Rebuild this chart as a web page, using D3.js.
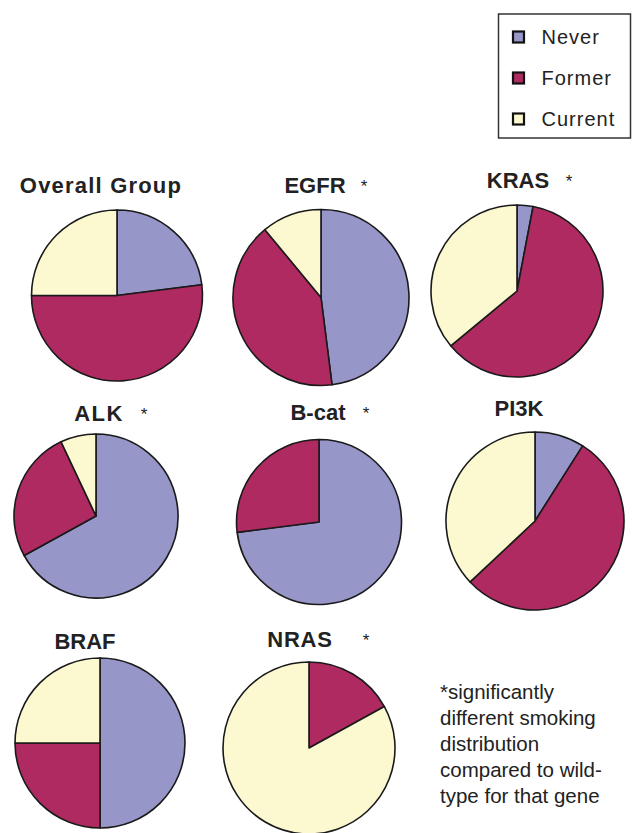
<!DOCTYPE html>
<html>
<head>
<meta charset="utf-8">
<script src="https://cdn.jsdelivr.net/npm/d3@7"></script>
<style>
  html, body { margin: 0; padding: 0; background: #fff; }
  svg { display: block; font-family: "Liberation Sans", Arial, sans-serif; }
</style>
</head>
<body>
<svg id="chart" width="633" height="833"></svg>
<script>
// Smoking history distribution by mutation group
const groups      = ["Overall Group", "EGFR", "KRAS", "ALK", "B-cat", "PI3K", "BRAF", "NRAS"];
const significant = [false, true, true, true, true, false, false, true];
const categories  = ["Never", "Former", "Current"];
const neverPct    = [23, 48, 3, 67, 73, 9, 50, 0];
const formerPct   = [52, 41, 61, 26, 27, 54, 25, 17];
const currentPct  = [25, 11, 36, 7, 0, 37, 25, 83];
const footnote    = ["*significantly", "different smoking", "distribution", "compared to wild-", "type for that gene"];

// Panel placement: pie centre and radius, title centre/baseline, star x
const panels = [
  { cx: 117, cy: 295.5, r: 85.5, tx: 101, ty: 193, sx: 0,   ls: 1.2 },
  { cx: 321, cy: 297.5, r: 88,   tx: 315, ty: 193, sx: 364, ls: 0 },
  { cx: 517, cy: 291,   r: 86,   tx: 518, ty: 188, sx: 569, ls: 0 },
  { cx: 96,  cy: 516,   r: 82,   tx: 99,  ty: 421, sx: 144, ls: 1.5 },
  { cx: 319, cy: 522,   r: 82.5, tx: 318, ty: 420, sx: 366, ls: 0 },
  { cx: 535, cy: 521,   r: 89,   tx: 519, ty: 416, sx: 0,   ls: 0 },
  { cx: 100, cy: 743,   r: 85,   tx: 85,  ty: 649, sx: 0,   ls: 0 },
  { cx: 309, cy: 748,   r: 86,   tx: 300, ty: 647, sx: 366, ls: 0.8 }
];

const color = d3.scaleOrdinal()
  .domain(categories)
  .range(["#9696c8", "#b02a62", "#fcf9d0"]);

const svg = d3.select("#chart");

const pie = d3.pie()
  .sort(null)
  .value(d => d.value)
  .startAngle(0)
  .endAngle(2 * Math.PI);

groups.forEach((name, i) => {
  const p = panels[i];
  const rows = [
    { key: "Never",   value: neverPct[i] },
    { key: "Former",  value: formerPct[i] },
    { key: "Current", value: currentPct[i] }
  ];
  const arc = d3.arc().innerRadius(0).outerRadius(p.r);
  const g = svg.append("g").attr("transform", `translate(${p.cx},${p.cy})`);

  g.selectAll("path")
    .data(pie(rows).filter(d => d.data.value > 0))
    .join("path")
    .attr("d", arc)
    .attr("fill", d => color(d.data.key))
    .attr("stroke", "#1a1a1a")
    .attr("stroke-width", 1.6)
    .attr("stroke-linejoin", "round");

  svg.append("text")
    .attr("x", p.tx)
    .attr("y", p.ty)
    .attr("text-anchor", "middle")
    .attr("font-weight", "bold")
    .attr("font-size", 22)
    .attr("letter-spacing", p.ls)
    .attr("fill", "#222")
    .text(name);

  if (significant[i]) {
    svg.append("text")
      .attr("x", p.sx)
      .attr("y", p.ty - 1)
      .attr("text-anchor", "middle")
      .attr("font-size", 17)
      .attr("fill", "#222")
      .text("*");
  }
});

// Legend
const legend = svg.append("g").attr("transform", "translate(498.5,14)");
legend.append("rect")
  .attr("x", 0).attr("y", 0)
  .attr("width", 132).attr("height", 124)
  .attr("fill", "#fff")
  .attr("stroke", "#333")
  .attr("stroke-width", 1.5);
const legendY = d3.scalePoint().domain(categories).range([23, 105]);
categories.forEach(c => {
  const y = legendY(c);
  legend.append("rect")
    .attr("x", 14.5).attr("y", y - 5.5)
    .attr("width", 11).attr("height", 11)
    .attr("fill", color(c))
    .attr("stroke", "#111")
    .attr("stroke-width", 2.2);
  legend.append("text")
    .attr("x", 43).attr("y", y + 7)
    .attr("font-size", 20)
    .attr("letter-spacing", 1)
    .attr("fill", "#222")
    .text(c);
});

// Footnote
const note = svg.append("text")
  .attr("x", 440)
  .attr("y", 699)
  .attr("font-size", 20.5)
  .attr("fill", "#222");
note.selectAll("tspan")
  .data(footnote)
  .join("tspan")
  .attr("x", 440)
  .attr("dy", (d, i) => i === 0 ? 0 : 26)
  .text(d => d);
</script>
</body>
</html>
